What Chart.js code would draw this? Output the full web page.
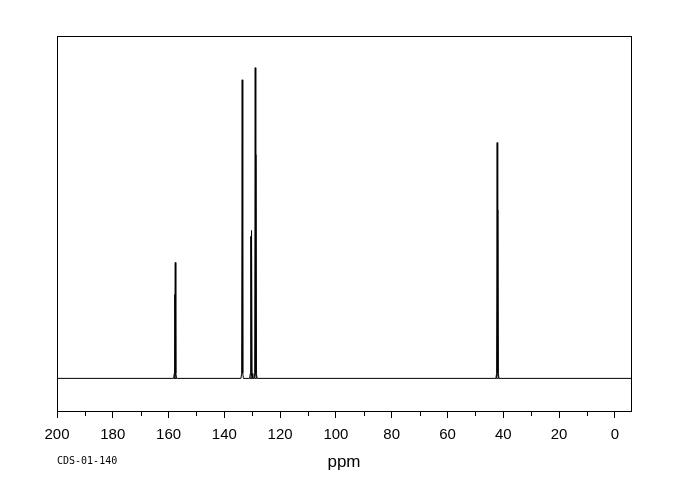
<!DOCTYPE html>
<html>
<head>
<meta charset="utf-8">
<script src="https://cdn.jsdelivr.net/npm/chart.js@4.4.1/dist/chart.umd.min.js"></script>
<style>
  html, body { margin: 0; padding: 0; background: #fff; }
  canvas { display: block; }
</style>
</head>
<body>
<canvas id="espectro" width="680" height="500"></canvas>
<script>
// picos del espectro (ppm) y alturas relativas (pico mayor = 100)
const peakPpm = [157.75, 157.6, 133.6, 130.5, 130.25, 128.93, 128.7, 42.19, 41.97];
const peakHeight = [27, 37.3, 96.1, 45.7, 47.6, 100, 72, 75.9, 54.3];
const xTicks = [200, 180, 160, 140, 120, 100, 80, 60, 40, 20, 0];
const minorTicks = [190, 170, 150, 130, 110, 90, 70, 50, 30, 10];
const xMin = -5.8, xMax = 200;
const yMin = -10.5, yMax = 110.2;
const footHeight = 1.6;

// linea base + picos (cada pico sube y baja en vertical, con un pie pequeño)
const puntos = [{ x: xMax, y: 0 }];
peakPpm.forEach((p, i) => {
  puntos.push({ x: p + 0.45, y: 0 });
  puntos.push({ x: p + 0.2, y: footHeight });
  puntos.push({ x: p, y: peakHeight[i] });
  puntos.push({ x: p - 0.2, y: footHeight });
  puntos.push({ x: p - 0.45, y: 0 });
});
puntos.push({ x: xMin, y: 0 });

const marco = {
  id: 'marco',
  afterDraw(chart) {
    const { ctx, chartArea: a, scales: { x } } = chart;
    ctx.save();
    ctx.strokeStyle = '#000';
    ctx.lineWidth = 1;
    ctx.strokeRect(a.left + 0.5, a.top + 0.5, a.right - a.left, a.bottom - a.top);
    ctx.beginPath();
    minorTicks.forEach(v => {
      const px = Math.round(x.getPixelForValue(v)) + 0.5;
      ctx.moveTo(px, a.bottom);
      ctx.lineTo(px, a.bottom + 5);
    });
    ctx.stroke();
    ctx.fillStyle = '#000';
    ctx.font = '10px "DejaVu Sans Mono"';
    ctx.textBaseline = 'middle';
    ctx.fillText('CDS-01-140', 57, 461);
    ctx.restore();
  }
};

new Chart(document.getElementById('espectro'), {
  type: 'line',
  data: {
    datasets: [{
      data: puntos,
      borderColor: '#000',
      borderWidth: 1,
      pointRadius: 0,
      tension: 0,
      fill: false
    }]
  },
  options: {
    responsive: false,
    animation: false,
    layout: { padding: { left: 57, right: 49, top: 36, bottom: 0 } },
    plugins: { legend: { display: false }, tooltip: { enabled: false } },
    scales: {
      x: {
        type: 'linear',
        reverse: true,
        min: xMin,
        max: xMax,
        afterFit(scale) { scale.height = 89; },
        afterBuildTicks(scale) { scale.ticks = xTicks.map(v => ({ value: v })); },
        border: { display: false },
        grid: { drawOnChartArea: false, drawTicks: true, tickLength: 7, color: '#000' },
        ticks: {
          color: '#000',
          padding: 8,
          maxRotation: 0,
          autoSkip: false,
          font: { family: '"Liberation Sans"', size: 15 }
        },
        title: {
          display: true,
          text: 'ppm',
          color: '#000',
          padding: { top: 0, bottom: 27 },
          font: { family: '"Liberation Sans"', size: 17 }
        }
      },
      y: {
        display: false,
        min: yMin,
        max: yMax
      }
    }
  },
  plugins: [marco]
});
</script>
</body>
</html>
